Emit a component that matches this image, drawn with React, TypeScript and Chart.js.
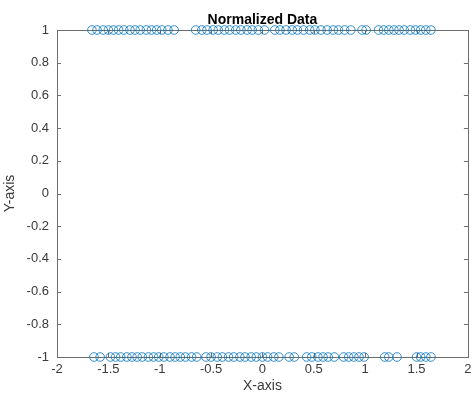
import React, { useEffect, useRef } from "react";
import { Chart, registerables } from "chart.js";

Chart.register(...registerables);

// Normalized samples that land on the upper level (y = 1)
const upperX: number[] = [
  -1.66, -1.61, -1.55, -1.5, -1.45, -1.4, -1.35, -1.29, -1.24, -1.19, -1.13, -1.08, -1.03, -0.98, -0.92, -0.86,
  -0.65, -0.59, -0.54, -0.48, -0.43, -0.37, -0.32, -0.26, -0.21, -0.15, -0.1, -0.04, 0.02,
  0.12, 0.17, 0.23, 0.29, 0.34, 0.4, 0.46, 0.51, 0.57, 0.63, 0.69, 0.74, 0.8, 0.86,
  0.97, 1.01,
  1.13, 1.18, 1.23, 1.28, 1.33, 1.38, 1.44, 1.49, 1.54, 1.59, 1.64,
];

// Normalized samples that land on the lower level (y = -1)
const lowerX: number[] = [
  -1.64, -1.58,
  -1.48, -1.43, -1.38, -1.32, -1.27, -1.22, -1.17, -1.11, -1.06, -1.01, -0.96, -0.9, -0.85, -0.8, -0.75, -0.69, -0.64,
  -0.55, -0.5, -0.44, -0.39, -0.33, -0.28, -0.22, -0.17, -0.11, -0.06, 0.0, 0.05, 0.11, 0.16,
  0.26, 0.31,
  0.43, 0.48, 0.54, 0.59, 0.64, 0.7,
  0.79, 0.84, 0.89, 0.94, 0.99,
  1.19, 1.23,
  1.31,
  1.5, 1.54, 1.59, 1.64,
];

const upperLevel = 1;
const lowerLevel = -1;

const xTicks: number[] = [-2, -1.5, -1, -0.5, 0, 0.5, 1, 1.5, 2];
const yTicks: number[] = [-1, -0.8, -0.6, -0.4, -0.2, 0, 0.2, 0.4, 0.6, 0.8, 1];

const titleText = "Normalized Data";
const xTitle = "X-axis";
const yTitle = "Y-axis";

const FONT = "'Liberation Sans', Arial, sans-serif";
const AXIS_COLOR = "#6e6e6e";
const TEXT_COLOR = "#3a3a3a";
const MARKER_COLOR = "rgb(0,114,189)";

const fmt = (v: number | string) => String(Math.round(Number(v) * 10) / 10);

// Box around the axes with inward-facing tick marks on all four sides,
// plus the title centred over the plotting area.
const boxPlugin = {
  id: "axesBox",
  beforeDatasetsDraw(chart: any) {
    const { ctx, chartArea } = chart;
    const { left, right, top, bottom } = chartArea;
    const xs = chart.scales.x;
    const ys = chart.scales.y;
    const tl = 4;
    ctx.save();
    ctx.strokeStyle = AXIS_COLOR;
    ctx.lineWidth = 1;
    ctx.strokeRect(Math.round(left) + 0.5, Math.round(top) + 0.5, Math.round(right - left), Math.round(bottom - top));
    ctx.beginPath();
    for (const v of xTicks) {
      const px = Math.round(xs.getPixelForValue(v)) + 0.5;
      ctx.moveTo(px, bottom);
      ctx.lineTo(px, bottom - tl);
      ctx.moveTo(px, top);
      ctx.lineTo(px, top + tl);
    }
    for (const v of yTicks) {
      const py = Math.round(ys.getPixelForValue(v)) + 0.5;
      ctx.moveTo(left, py);
      ctx.lineTo(left + tl, py);
      ctx.moveTo(right, py);
      ctx.lineTo(right - tl, py);
    }
    ctx.stroke();
    ctx.restore();
  },
  afterDraw(chart: any) {
    const { ctx, chartArea } = chart;
    ctx.save();
    ctx.fillStyle = "#000";
    ctx.font = `bold 14px ${FONT}`;
    ctx.textAlign = "center";
    ctx.textBaseline = "alphabetic";
    ctx.fillText(titleText, (chartArea.left + chartArea.right) / 2, chartArea.top - 6);
    ctx.restore();
  },
};

export default function App() {
  const canvasRef = useRef<HTMLCanvasElement | null>(null);

  useEffect(() => {
    const canvas = canvasRef.current;
    if (!canvas) return;
    const chart = new Chart(canvas, {
      type: "scatter",
      data: {
        datasets: [
          {
            data: [
              ...upperX.map((x) => ({ x, y: upperLevel })),
              ...lowerX.map((x) => ({ x, y: lowerLevel })),
            ],
            pointStyle: "circle",
            pointRadius: 4.3,
            pointHoverRadius: 4.3,
            pointBorderWidth: 0.8,
            pointBorderColor: MARKER_COLOR,
            pointBackgroundColor: "rgba(0,0,0,0)",
            clip: false,
          } as any,
        ],
      },
      options: {
        animation: false,
        responsive: false,
        devicePixelRatio: 1,
        layout: { padding: { top: 30, right: 2, left: 0, bottom: 0 } },
        plugins: {
          legend: { display: false },
          tooltip: { enabled: false },
          title: { display: false },
        },
        scales: {
          x: {
            type: "linear",
            min: -2,
            max: 2,
            afterFit: (s: any) => {
              s.height = 40;
              s.paddingLeft = 0;
              s.paddingRight = 0;
            },
            afterBuildTicks: (s: any) => {
              s.ticks = xTicks.map((v) => ({ value: v }));
            },
            grid: { display: false, drawTicks: false },
            border: { display: false },
            ticks: {
              padding: 5,
              color: TEXT_COLOR,
              font: { family: FONT, size: 13 },
              maxRotation: 0,
              autoSkip: false,
              callback: (v: any) => fmt(v),
            },
            title: {
              display: true,
              text: xTitle,
              color: TEXT_COLOR,
              font: { family: FONT, size: 14 },
              padding: { top: 0, bottom: 2 },
            },
          },
          y: {
            type: "linear",
            min: -1,
            max: 1,
            afterFit: (s: any) => {
              s.width = 57;
              s.paddingTop = 0;
              s.paddingBottom = 0;
            },
            afterBuildTicks: (s: any) => {
              s.ticks = yTicks.map((v) => ({ value: v }));
            },
            grid: { display: false, drawTicks: false },
            border: { display: false },
            ticks: {
              padding: 8,
              color: TEXT_COLOR,
              font: { family: FONT, size: 13 },
              autoSkip: false,
              callback: (v: any) => fmt(v),
            },
            title: {
              display: true,
              text: yTitle,
              color: TEXT_COLOR,
              font: { family: FONT, size: 14 },
              padding: { top: 2, bottom: 0 },
            },
          },
        },
      },
      plugins: [boxPlugin],
    });
    return () => chart.destroy();
  }, []);

  return (
    <div style={{ position: "absolute", left: 0, top: 0, width: 473, height: 397, background: "#fff" }}>
      <canvas ref={canvasRef} width={473} height={397} style={{ display: "block" }} />
    </div>
  );
}
